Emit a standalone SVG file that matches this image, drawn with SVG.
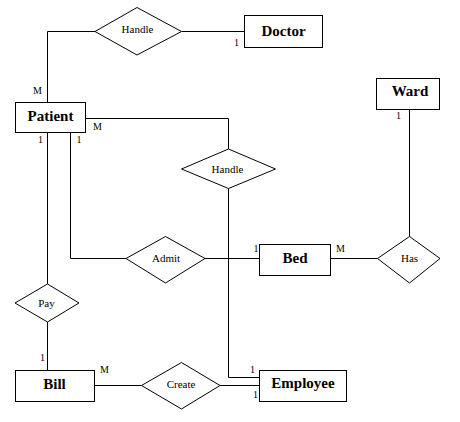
<svg xmlns="http://www.w3.org/2000/svg" width="460" height="422" viewBox="0 0 460 422">
<style>
.box{fill:#fff;stroke:#000;stroke-width:1}
.rel{fill:#fff;stroke:#000;stroke-width:1}
.ln{fill:none;stroke:#000;stroke-width:1}
.et{font-family:"Liberation Serif","Times New Roman",serif;font-weight:bold;font-size:15px;text-anchor:middle;fill:#000}
.rt{font-family:"Liberation Serif","Times New Roman",serif;font-size:11px;text-anchor:middle;fill:#000}
.card{font-family:"Liberation Serif","Times New Roman",serif;font-size:10px;fill:#000}
</style>
<rect width="460" height="422" fill="#fff"/>
<g id="connectors">
<path class="ln" d="M95,31.5 H47.5 V102.5"/>
<path class="ln" d="M181.5,31.5 H244.5"/>
<path class="ln" d="M85.5,118.5 H228.5 V149"/>
<path class="ln" d="M228.5,188.5 V377.5 H259.5"/>
<path class="ln" d="M70.5,132.5 V258.5 H126"/>
<path class="ln" d="M205,258.5 H259.5"/>
<path class="ln" d="M330.5,258.5 H377.5"/>
<path class="ln" d="M409.5,236.5 V109.5"/>
<path class="ln" d="M47.5,132.5 V284"/>
<path class="ln" d="M47.5,322 V370.5"/>
<path class="ln" d="M94.5,385.5 H141.5"/>
<path class="ln" d="M220,385.5 H259.5"/>
<text class="card" x="234" y="46">1</text>
<text class="card" x="33" y="94">M</text>
<text class="card" x="93" y="130">M</text>
<text class="card" x="38" y="143">1</text>
<text class="card" x="76.5" y="143">1</text>
<text class="card" x="253.5" y="252">1</text>
<text class="card" x="336" y="252">M</text>
<text class="card" x="396" y="119">1</text>
<text class="card" x="40" y="361">1</text>
<text class="card" x="100" y="372.5">M</text>
<text class="card" x="250" y="372.5">1</text>
<text class="card" x="253" y="397.5">1</text>
</g>
<g id="patient"><rect class="box" x="15.5" y="102.5" width="70" height="30"/><text class="et" x="50.5" y="121">Patient</text></g>
<g id="doctor"><rect class="box" x="244.5" y="15.5" width="78" height="32"/><text class="et" x="283.5" y="36">Doctor</text></g>
<g id="ward"><rect class="box" x="376.5" y="78.5" width="63" height="31"/><text class="et" x="410" y="96">Ward</text></g>
<g id="bed"><rect class="box" x="259.5" y="244.5" width="71" height="31"/><text class="et" x="295" y="262.5">Bed</text></g>
<g id="bill"><rect class="box" x="15.5" y="370.5" width="79" height="31"/><text class="et" x="54.5" y="389">Bill</text></g>
<g id="employee"><rect class="box" x="259.5" y="370.5" width="87" height="31"/><text class="et" x="303" y="388">Employee</text></g>
<g id="handle1"><polygon class="rel" points="95,31.5 137,7.5 181.5,31.5 137,55"/><text class="rt" x="137.5" y="33">Handle</text></g>
<g id="handle2"><polygon class="rel" points="181.5,169 228.5,149 275.5,169 228.5,188.5"/><text class="rt" x="227.5" y="172.5">Handle</text></g>
<g id="admit"><polygon class="rel" points="126,258.5 165.5,236.5 205,258.5 165.5,283"/><text class="rt" x="166" y="261.5">Admit</text></g>
<g id="has"><polygon class="rel" points="377.5,258.5 409.5,236.5 440,258.5 409.5,283"/><text class="rt" x="409.5" y="261.5">Has</text></g>
<g id="pay"><polygon class="rel" points="15,303 47.5,284 79,303 47.5,322"/><text class="rt" x="46.5" y="306.5">Pay</text></g>
<g id="create"><polygon class="rel" points="141.5,385.5 181.5,362.5 220,385.5 181.5,409"/><text class="rt" x="181" y="387.5">Create</text></g>
</svg>
